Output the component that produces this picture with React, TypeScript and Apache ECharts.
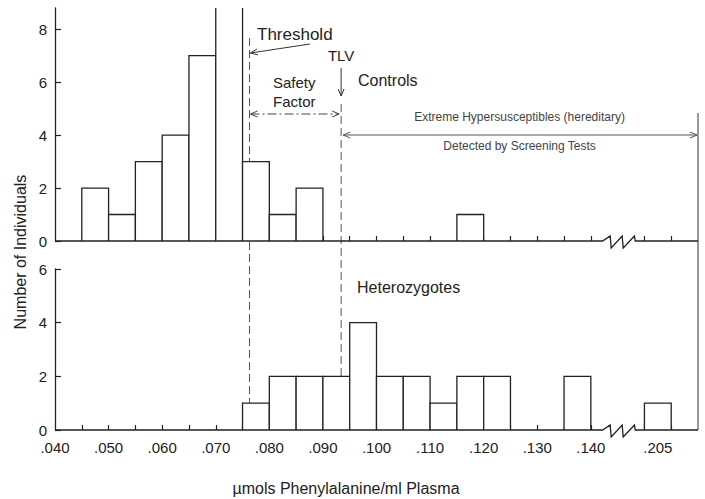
import React, { useEffect, useRef } from "react";
import * as echarts from "echarts";

// ---- data ----
const BIN = 0.005;
const X_MIN = 0.04;
const X_MAX = 0.16;
const BREAK_REAL = 0.2; // real values above this are drawn after the axis break
const BREAK_SHIFT = 0.0525;
const BREAK_LEFT = 0.1422;
const BREAK_RIGHT = 0.1486;
const THRESHOLD = 0.0763;
const TLV = 0.0934;

const controlsStarts = [0.045, 0.05, 0.055, 0.06, 0.065, 0.07, 0.075, 0.08, 0.085, 0.115];
const controlsCounts = [2, 1, 3, 4, 7, 10, 3, 1, 2, 1];

const heteroStarts = [0.075, 0.08, 0.085, 0.09, 0.095, 0.1, 0.105, 0.11, 0.115, 0.12, 0.135, 0.2025];
const heteroCounts = [1, 2, 2, 2, 4, 2, 2, 1, 2, 2, 2, 1];

const xTickValues = [
  0.045, 0.05, 0.055, 0.06, 0.065, 0.07, 0.075, 0.08, 0.085, 0.09, 0.095, 0.1,
  0.105, 0.11, 0.115, 0.12, 0.125, 0.13, 0.135, 0.14, 0.2025, 0.2075,
];
const xLabelValues = [0.04, 0.05, 0.06, 0.07, 0.08, 0.09, 0.1, 0.11, 0.12, 0.13, 0.14, 0.205];
const topYTicks = [0, 2, 4, 6, 8];
const bottomYTicks = [0, 2, 4, 6];
const TOP_Y_MAX = 8.8;
const BOTTOM_Y_MAX = 6;

const toAxis = (v: number) => (v > BREAK_REAL ? v - BREAK_SHIFT : v);
const fromAxis = (v: number) => (v > BREAK_LEFT ? v + BREAK_SHIFT : v);

const FONT = "Liberation Sans, Arial, Helvetica, sans-serif";
const INK = "#222";

function barRender(yMax: number) {
  return (params: any, api: any) => {
    const s = api.value(0);
    const e = api.value(1);
    const v = api.value(2);
    const over = v > yMax;
    const p0 = api.coord([s, 0]);
    const p1 = api.coord([e, Math.min(v, yMax)]);
    const x0 = p0[0], x1 = p1[0], yb = p0[1], yt = p1[1];
    const st = { stroke: INK, lineWidth: 1.3, fill: "none" };
    const children: any[] = [
      { type: "rect", shape: { x: x0, y: yt, width: x1 - x0, height: yb - yt }, style: { fill: "#fff" } },
    ];
    if (over) {
      children.push({ type: "polyline", shape: { points: [[x0, yb], [x0, yt]] }, style: st });
      children.push({ type: "polyline", shape: { points: [[x1, yb], [x1, yt]] }, style: st });
    } else {
      children.push({ type: "polyline", shape: { points: [[x0, yb], [x0, yt], [x1, yt], [x1, yb]] }, style: st });
    }
    return { type: "group", children };
  };
}

function baselineRender(params: any, api: any) {
  const a = api.coord([X_MIN, 0]);
  const b = api.coord([BREAK_LEFT, 0]);
  const c = api.coord([BREAK_RIGHT, 0]);
  const d = api.coord([X_MAX, 0]);
  const yb = a[1];
  const w = c[0] - b[0];
  const xb = b[0];
  const pts = [
    [a[0], yb],
    [xb, yb],
    [xb + 0.22 * w, yb - 5],
    [xb + 0.25 * w, yb + 7],
    [xb + 0.57 * w, yb - 5],
    [xb + 0.6 * w, yb + 7],
    [xb + 0.93 * w, yb - 5],
    [xb + 0.95 * w, yb],
    [d[0], yb],
  ];
  return {
    type: "polyline",
    shape: { points: pts },
    style: { stroke: INK, lineWidth: 1.3, fill: "none" },
  };
}

function arrowHead(tx: number, ty: number, dx: number, dy: number, color: string, len = 7, half = 3) {
  const l = Math.hypot(dx, dy);
  const ux = dx / l, uy = dy / l;
  const nx = -uy, ny = ux;
  return {
    type: "polyline",
    shape: {
      points: [
        [tx - len * ux + half * nx, ty - len * uy + half * ny],
        [tx, ty],
        [tx - len * ux - half * nx, ty - len * uy - half * ny],
      ],
    },
    style: { stroke: color, lineWidth: 1, fill: "none" },
  };
}

const xAxisCommon = (gridIndex: number, showLabels: boolean) => ({
  type: "value",
  gridIndex,
  min: X_MIN,
  max: X_MAX,
  axisLine: { show: false },
  splitLine: { show: false },
  axisTick: {
    show: true,
    inside: true,
    length: 5,
    customValues: xTickValues.map(toAxis),
    lineStyle: { color: INK, width: 1.2 },
  },
  axisLabel: {
    show: showLabels,
    customValues: xLabelValues.map(toAxis),
    fontSize: 15,
    color: INK,
    margin: 10,
    fontFamily: FONT,
    formatter: (val: number) => "." + String(Math.round(fromAxis(val) * 1000)).padStart(3, "0"),
  },
});

const yAxisCommon = (gridIndex: number, max: number, ticks: number[]) => ({
  type: "value",
  gridIndex,
  min: 0,
  max,
  axisLine: { show: true, lineStyle: { color: INK, width: 1.3 } },
  splitLine: { show: false },
  axisTick: { show: true, inside: true, length: 6, customValues: ticks, lineStyle: { color: INK, width: 1.2 } },
  axisLabel: { customValues: ticks, fontSize: 15, color: INK, margin: 8, fontFamily: FONT },
});

export default function App() {
  const ref = useRef<HTMLDivElement>(null);

  useEffect(() => {
    if (!ref.current) return;
    const chart = echarts.init(ref.current, undefined, { renderer: "svg" });

    const option: any = {
      animation: false,
      backgroundColor: "#fff",
      textStyle: { fontFamily: FONT },
      grid: [
        { left: 55, top: 8, width: 643, height: 233 },
        { left: 55, top: 269, width: 643, height: 161 },
      ],
      xAxis: [xAxisCommon(0, false), xAxisCommon(1, true)],
      yAxis: [yAxisCommon(0, TOP_Y_MAX, topYTicks), yAxisCommon(1, BOTTOM_Y_MAX, bottomYTicks)],
      series: [
        {
          type: "custom",
          name: "Controls",
          xAxisIndex: 0,
          yAxisIndex: 0,
          encode: { x: [0, 1], y: 2 },
          renderItem: barRender(TOP_Y_MAX),
          data: controlsStarts.map((s, i) => [toAxis(s), toAxis(s) + BIN, controlsCounts[i]]),
          z: 2,
        },
        {
          type: "custom",
          name: "Heterozygotes",
          xAxisIndex: 1,
          yAxisIndex: 1,
          encode: { x: [0, 1], y: 2 },
          renderItem: barRender(BOTTOM_Y_MAX),
          data: heteroStarts.map((s, i) => [toAxis(s), toAxis(s) + BIN, heteroCounts[i]]),
          z: 2,
        },
        {
          type: "custom",
          xAxisIndex: 0,
          yAxisIndex: 0,
          renderItem: baselineRender,
          data: [[0.1, 0]],
          z: 3,
          silent: true,
        },
        {
          type: "custom",
          xAxisIndex: 1,
          yAxisIndex: 1,
          renderItem: baselineRender,
          data: [[0.1, 0]],
          z: 3,
          silent: true,
        },
      ],
    };
    chart.setOption(option);

    const px = (v: number) => chart.convertToPixel({ xAxisIndex: 0 }, v) as number;
    const xT = px(THRESHOLD);
    const xL = px(TLV);
    const xR = px(X_MAX);
    const yBottom = chart.convertToPixel({ yAxisIndex: 1 }, 0) as number;
    const dash = { stroke: "#555", lineWidth: 1, lineDash: [8, 4] };
    const txt = (x: number, y: number, text: string, size: number, extra: any = {}) => ({
      type: "text",
      x,
      y,
      style: { text, fontSize: size, fontFamily: FONT, fill: INK, verticalAlign: "middle", align: "left", ...extra },
    });

    const yTitle: any = txt(20, 252, "Number of Individuals", 16, { align: "center" });
    yTitle.rotation = Math.PI / 2;

    const graphic: any[] = [
      { type: "line", shape: { x1: xT, y1: 38, x2: xT, y2: yBottom }, style: dash },
      { type: "line", shape: { x1: xL, y1: 104, x2: xL, y2: yBottom }, style: dash },
      txt(257, 34, "Threshold", 17),
      { type: "line", shape: { x1: 310, y1: 44, x2: xT + 1, y2: 53 }, style: { stroke: "#333", lineWidth: 1 } },
      arrowHead(xT + 1, 53, xT + 1 - 310, 53 - 44, "#333"),
      txt(xL, 55, "TLV", 15, { align: "center" }),
      { type: "line", shape: { x1: xL, y1: 68, x2: xL, y2: 96 }, style: { stroke: "#333", lineWidth: 1 } },
      arrowHead(xL, 96, 0, 1, "#333"),
      txt(273, 82, "Safety", 15),
      txt(273, 101, "Factor", 15),
      {
        type: "line",
        shape: { x1: xT + 1, y1: 114, x2: xL - 2, y2: 114 },
        style: { stroke: "#444", lineWidth: 1, lineDash: [9, 3, 2, 3] },
      },
      arrowHead(xT + 1, 114, -1, 0, "#444"),
      arrowHead(xL - 2, 114, 1, 0, "#444"),
      txt(358, 80, "Controls", 16),
      { type: "line", shape: { x1: xL + 2, y1: 135, x2: xR - 1, y2: 135 }, style: { stroke: "#555", lineWidth: 1 } },
      arrowHead(xL + 2, 135, -1, 0, "#555"),
      arrowHead(xR - 1, 135, 1, 0, "#555"),
      txt((xL + xR) / 2, 117, "Extreme Hypersusceptibles (hereditary)", 12, { align: "center", fill: "#444" }),
      txt((xL + xR) / 2, 146, "Detected by Screening Tests", 12, { align: "center", fill: "#444" }),
      { type: "line", shape: { x1: xR, y1: 113, x2: xR, y2: yBottom }, style: { stroke: "#555", lineWidth: 1.2 } },
      txt(357, 287, "Heterozygotes", 16),
      yTitle,
      txt(346, 488, "\u00b5mols Phenylalanine/ml Plasma", 16, { align: "center" }),
    ];

    chart.setOption({ graphic });

    return () => chart.dispose();
  }, []);

  return <div ref={ref} style={{ position: "fixed", left: 0, top: 0, width: 705, height: 499 }} />;
}
